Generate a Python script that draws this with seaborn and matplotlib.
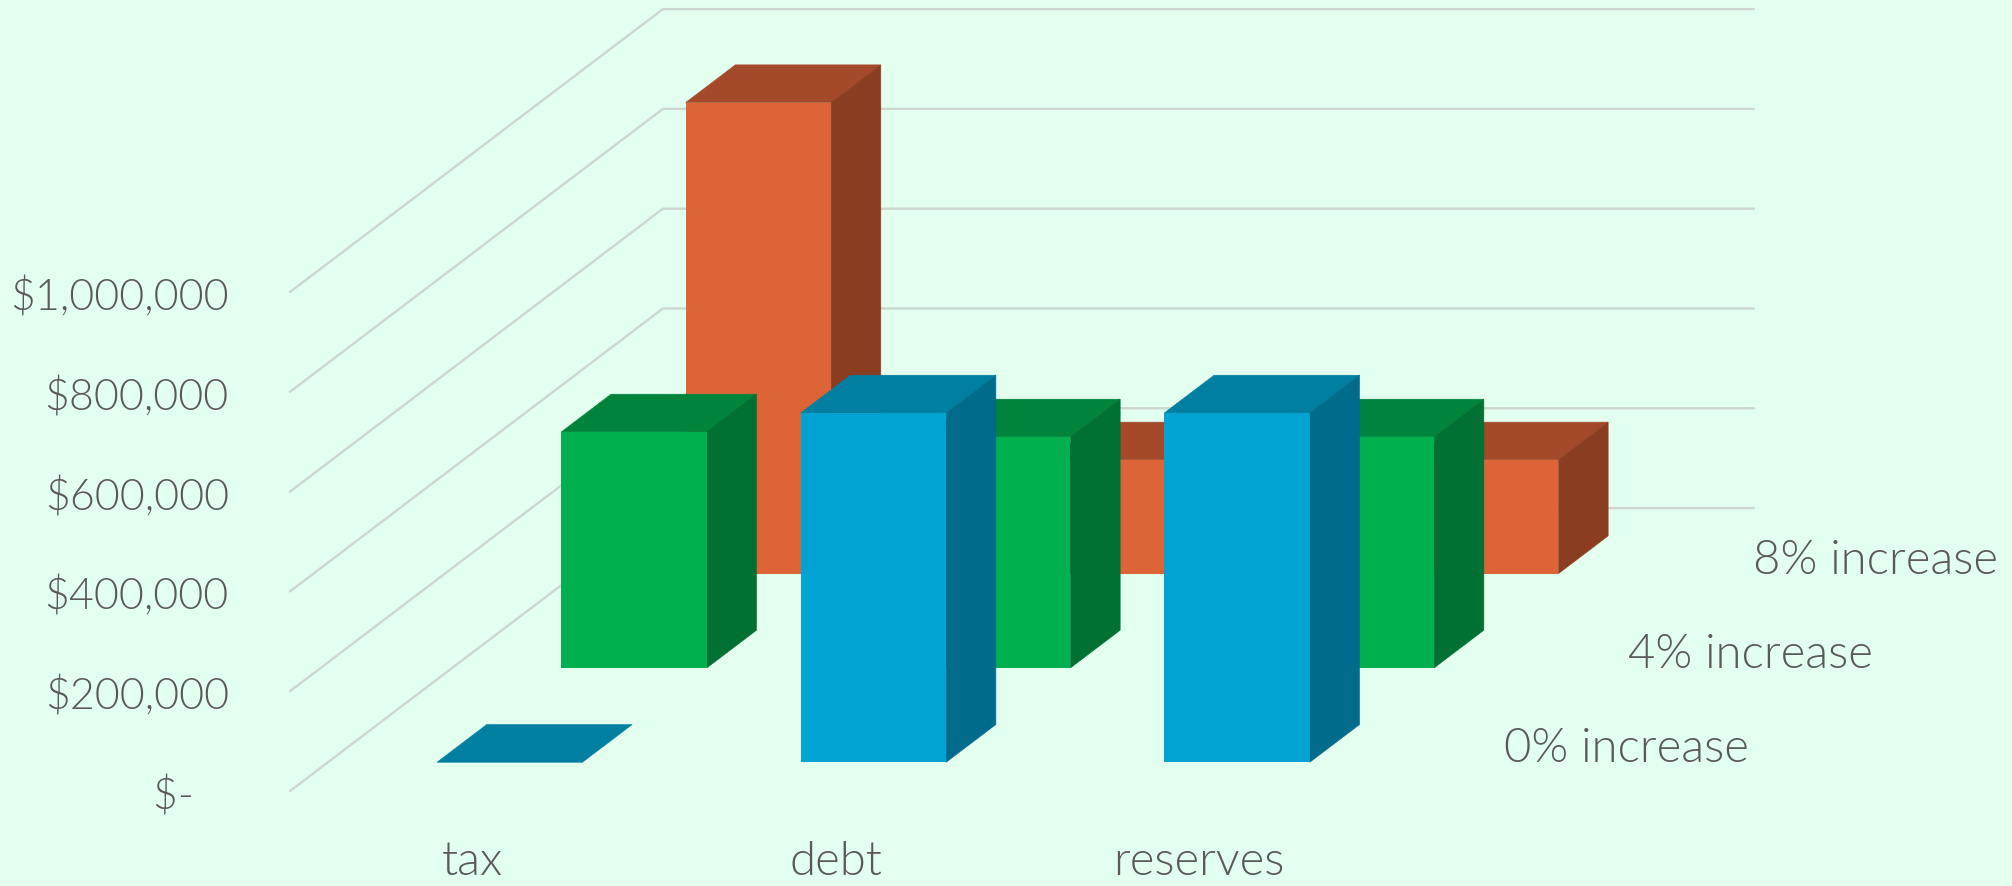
import matplotlib
matplotlib.use("Agg")
import matplotlib.pyplot as plt
from matplotlib.patches import Polygon
from matplotlib.transforms import Affine2D, ScaledTranslation
import pandas as pd
import seaborn as sns

# Budget impact by scenario
categories = ["tax", "debt", "reserves"]
scenario_names = ["0% increase", "4% increase", "8% increase"]
increase_0 = [0, 700000, 700000]
increase_4 = [473000, 463000, 463000]
increase_8 = [944000, 228000, 228000]
tick_values = [0, 200000, 400000, 600000, 800000, 1000000]
tick_labels = ["$-   ", "$200,000", "$400,000", "$600,000", "$800,000", "$1,000,000"]

series_values = [increase_0, increase_4, increase_8]
front_colors = ["#00A3D1", "#00B04F", "#DD6437"]
top_colors = ["#007FA1", "#00843C", "#A44A2A"]
side_colors = ["#006B8B", "#007033", "#8B3D21"]

BG = "#E3FFEF"
GRID = "#CBD7D0"
TEXT = "#595959"
DPI = 100
W, H = 2012, 886

sns.set_theme(style="white", rc={"figure.facecolor": BG, "axes.facecolor": BG})
plt.rcParams["font.family"] = ["Lato", "DejaVu Sans"]
plt.rcParams["font.weight"] = 300
TICK_SIZE = 31
LABEL_SIZE = 34

# The axes origin is the front-left corner of the floor
left_px, floor_px = 290, 791
unit_px = 363.67            # one category
dollar_px = 99.8 / 200000   # pixels per dollar
fig = plt.figure(figsize=(W / DPI, H / DPI), dpi=DPI)
ax = fig.add_axes([left_px / W, 1 - floor_px / H, 1 - left_px / W, floor_px / H])

# Oblique projection: each depth slot moves up and to the right
DEPTH_X = 124.3 / unit_px
DEPTH_Y = 94.3 / dollar_px
BAR_WIDTH = 0.4
BAR_DEPTH = 0.4
GAP = 0.305


def project(u, depth, value):
    return u + depth * DEPTH_X, value + depth * DEPTH_Y


for s, (name, values) in reversed(list(enumerate(zip(scenario_names, series_values)))):
    frame = pd.DataFrame({"category": categories, "value": values})
    first = len(ax.patches)
    sns.barplot(data=frame, x="category", y="value", order=categories, color=front_colors[s],
                saturation=1, width=BAR_WIDTH, errorbar=None, linewidth=0, ax=ax)
    d0 = s + GAP
    d1 = d0 + BAR_DEPTH
    shift = Affine2D().translate(*project(0, d0, 0)) + ax.transData
    base_z = 10 * (3 - s)
    for c, (bar, v) in enumerate(zip(ax.patches[first:], values)):
        bar.set_transform(shift)
        bar.set_zorder(base_z + c + 0.5)
        xl, xr = c - BAR_WIDTH / 2, c + BAR_WIDTH / 2
        top = [project(xl, d0, v), project(xr, d0, v), project(xr, d1, v), project(xl, d1, v)]
        ax.add_patch(Polygon(top, closed=True, facecolor=top_colors[s],
                             edgecolor=top_colors[s], linewidth=0.4, zorder=base_z + c + 0.2))
        if v > 0:
            side = [project(xr, d0, 0), project(xr, d1, 0), project(xr, d1, v), project(xr, d0, v)]
            ax.add_patch(Polygon(side, closed=True, facecolor=side_colors[s],
                                 edgecolor=side_colors[s], linewidth=0.4, zorder=base_z + c + 0.3))

# Gridlines along the side wall and the back wall
n_depth = len(scenario_names)
x_min, x_max = -0.5, -0.5 + (W - left_px) / unit_px
for t in tick_values:
    pts = [project(x_min, 0, t), project(x_min, n_depth, t),
           project(x_min + len(categories), n_depth, t)]
    ax.plot([p[0] for p in pts], [p[1] for p in pts], color=GRID, lw=1.7, zorder=1,
            solid_joinstyle="miter", clip_on=False)

ax.set_xlim(x_min, x_max)
ax.set_ylim(0, floor_px / dollar_px)
ax.set_xlabel("")
ax.set_ylabel("")
sns.despine(ax=ax, left=True, bottom=True)

ax.set_yticks(tick_values, tick_labels)
ax.tick_params(axis="y", length=0, pad=44, labelsize=TICK_SIZE, labelcolor=TEXT)
ax.set_xticks(range(len(categories)), categories)
ax.tick_params(axis="x", length=0, pad=36, labelsize=LABEL_SIZE, labelcolor=TEXT)
for lab in ax.get_yticklabels():
    lab.set_transform(lab.get_transform() + ScaledTranslation(0, -2 / DPI, fig.dpi_scale_trans))

# Scenario labels on the depth axis
for s, name in enumerate(scenario_names):
    ax.annotate(name, xy=project(x_min + len(categories), s + 1, 0), xytext=(-1, -38),
                textcoords="offset points", ha="left", va="center", fontsize=LABEL_SIZE,
                color=TEXT, annotation_clip=False)

fig.savefig("out.png", dpi=DPI, facecolor=BG)
